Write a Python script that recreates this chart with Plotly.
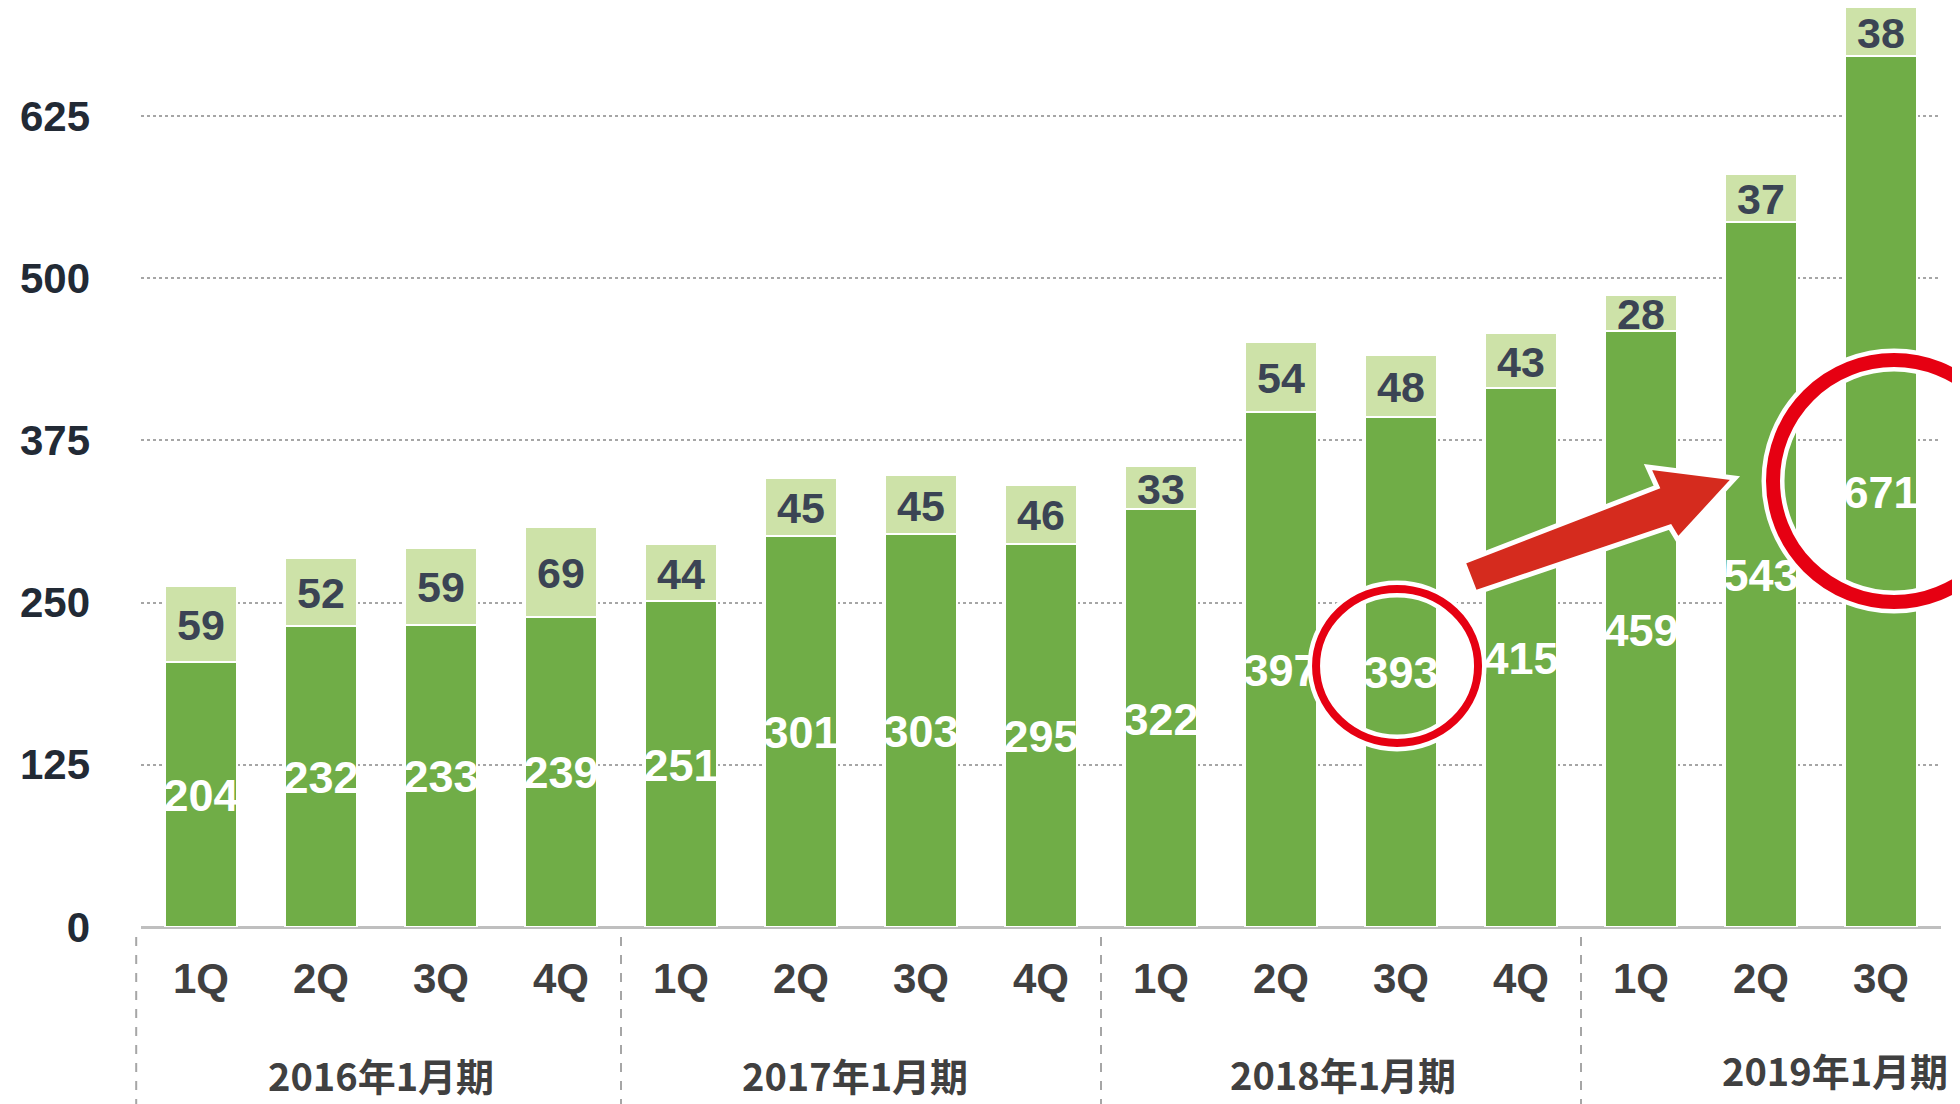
import plotly.graph_objects as go

# ---- data ----
quarters = ["1Q", "2Q", "3Q", "4Q", "1Q", "2Q", "3Q", "4Q", "1Q", "2Q", "3Q", "4Q", "1Q", "2Q", "3Q"]
base_values = [204, 232, 233, 239, 251, 301, 303, 295, 322, 397, 393, 415, 459, 543, 671]
top_values = [59, 52, 59, 69, 44, 45, 45, 46, 33, 54, 48, 43, 28, 37, 38]
fiscal_years = ["2016年1月期", "2017年1月期", "2018年1月期", "2019年1月期"]
fiscal_year_centers = [1.5, 5.45, 9.52, 13.62]
y_ticks = [0, 125, 250, 375, 500, 625]

DARK = "#70AD47"
LIGHT = "#CDE2A8"
NUM_FONT = "Liberation Sans, Arial, sans-serif"
CJK_FONT = "Noto Sans CJK JP, sans-serif"

X_MIN, X_MAX = -0.5, 14.5
Y_MAX = 708.2
TEXT_NUDGE = 4.0            # small downward nudge (in axis units) to centre the glyphs visually
YEAR_LABEL_Y = [-0.161, -0.161, -0.159, -0.155]   # paper positions of the fiscal-year labels

xs = list(range(len(quarters)))

fig = go.Figure()
fig.add_trace(go.Bar(x=xs, y=base_values, marker=dict(color=DARK, line=dict(color="white", width=2)),
                     hoverinfo="skip", showlegend=False))
fig.add_trace(go.Bar(x=xs, y=top_values, marker=dict(color=LIGHT, line=dict(color="white", width=2)),
                     hoverinfo="skip", showlegend=False))

# labels inside the dark segment
fig.add_trace(go.Scatter(
    x=xs, y=[v / 2 - TEXT_NUDGE for v in base_values], mode="text",
    text=[str(v) for v in base_values], textposition="middle center",
    textfont=dict(family=NUM_FONT, size=45, color="white", weight="bold"),
    cliponaxis=False, showlegend=False, hoverinfo="skip"))
# labels in the light segment
fig.add_trace(go.Scatter(
    x=xs, y=[b + t / 2 - TEXT_NUDGE for b, t in zip(base_values, top_values)], mode="text",
    text=[str(v) for v in top_values], textposition="middle center",
    textfont=dict(family=NUM_FONT, size=43, color="#3B4454", weight="bold"),
    cliponaxis=False, showlegend=False, hoverinfo="skip"))


def px_(xv):
    return (xv - X_MIN) / (X_MAX - X_MIN)


def py_(yv):
    return yv / Y_MAX


shapes = []
# group separators below axis
for bx in [-0.54, 3.5, 7.5, 11.5]:
    shapes.append(dict(type="line", xref="paper", yref="paper", x0=px_(bx), x1=px_(bx), y0=-0.011, y1=-0.2,
                       line=dict(color="#A6A6A6", width=2, dash="dash")))

# arrow (white outline + red fill)
arrow_pts = [(10.517, 281.3), (12.133, 339.1), (12.058, 354.5), (12.783, 346.0),
             (12.308, 298.2), (12.242, 308.3), (10.617, 257.4)]
path = "M " + " L ".join(f"{x},{y}" for x, y in arrow_pts) + " Z"
shapes.append(dict(type="path", xref="x", yref="y", path=path, fillcolor="#D52B1E",
                   line=dict(color="white", width=5), layer="above"))

# circles (paper refs so they are not clipped at the plot edge)
for (x0, x1, y0, y1, w) in [(9.292, 10.642, 141.8, 260.5, 8), (13.1, 15.117, 250.5, 436.9, 14)]:
    for col, lw in [("white", w + 9), ("#E60012", w)]:
        shapes.append(dict(type="circle", xref="paper", yref="paper",
                           x0=px_(x0), x1=px_(x1), y0=py_(y0), y1=py_(y1),
                           line=dict(color=col, width=lw), layer="above"))

annotations = []
for label, cx, ly in zip(fiscal_years, fiscal_year_centers, YEAR_LABEL_Y):
    annotations.append(dict(x=cx, y=ly, xref="x", yref="paper", text=label, showarrow=False,
                            xanchor="center", yanchor="middle",
                            font=dict(family=CJK_FONT, size=38, color="#404040", weight="bold")))

fig.update_layout(
    width=1952, height=1096,
    margin=dict(l=133, r=19, t=0, b=177),
    paper_bgcolor="white", plot_bgcolor="white",
    barmode="stack", bargap=0.4,
    shapes=shapes, annotations=annotations,
    xaxis=dict(range=[X_MIN, X_MAX], tickmode="array", tickvals=xs, ticktext=quarters,
               showgrid=False, zeroline=False, showline=False, ticks="",
               ticklabelstandoff=23,
               tickfont=dict(family=NUM_FONT, size=42, color="#404040", weight="bold")),
    yaxis=dict(range=[0, Y_MAX], tickmode="array", tickvals=y_ticks,
               showgrid=True, gridcolor="#A6A6A6", griddash="dot", gridwidth=2,
               zeroline=True, zerolinecolor="#BFBFBF", zerolinewidth=3,
               showline=False, ticks="", ticklabelstandoff=50,
               tickfont=dict(family=NUM_FONT, size=42, color="#222A35", weight="bold")),
)

fig.write_html("out.html")
